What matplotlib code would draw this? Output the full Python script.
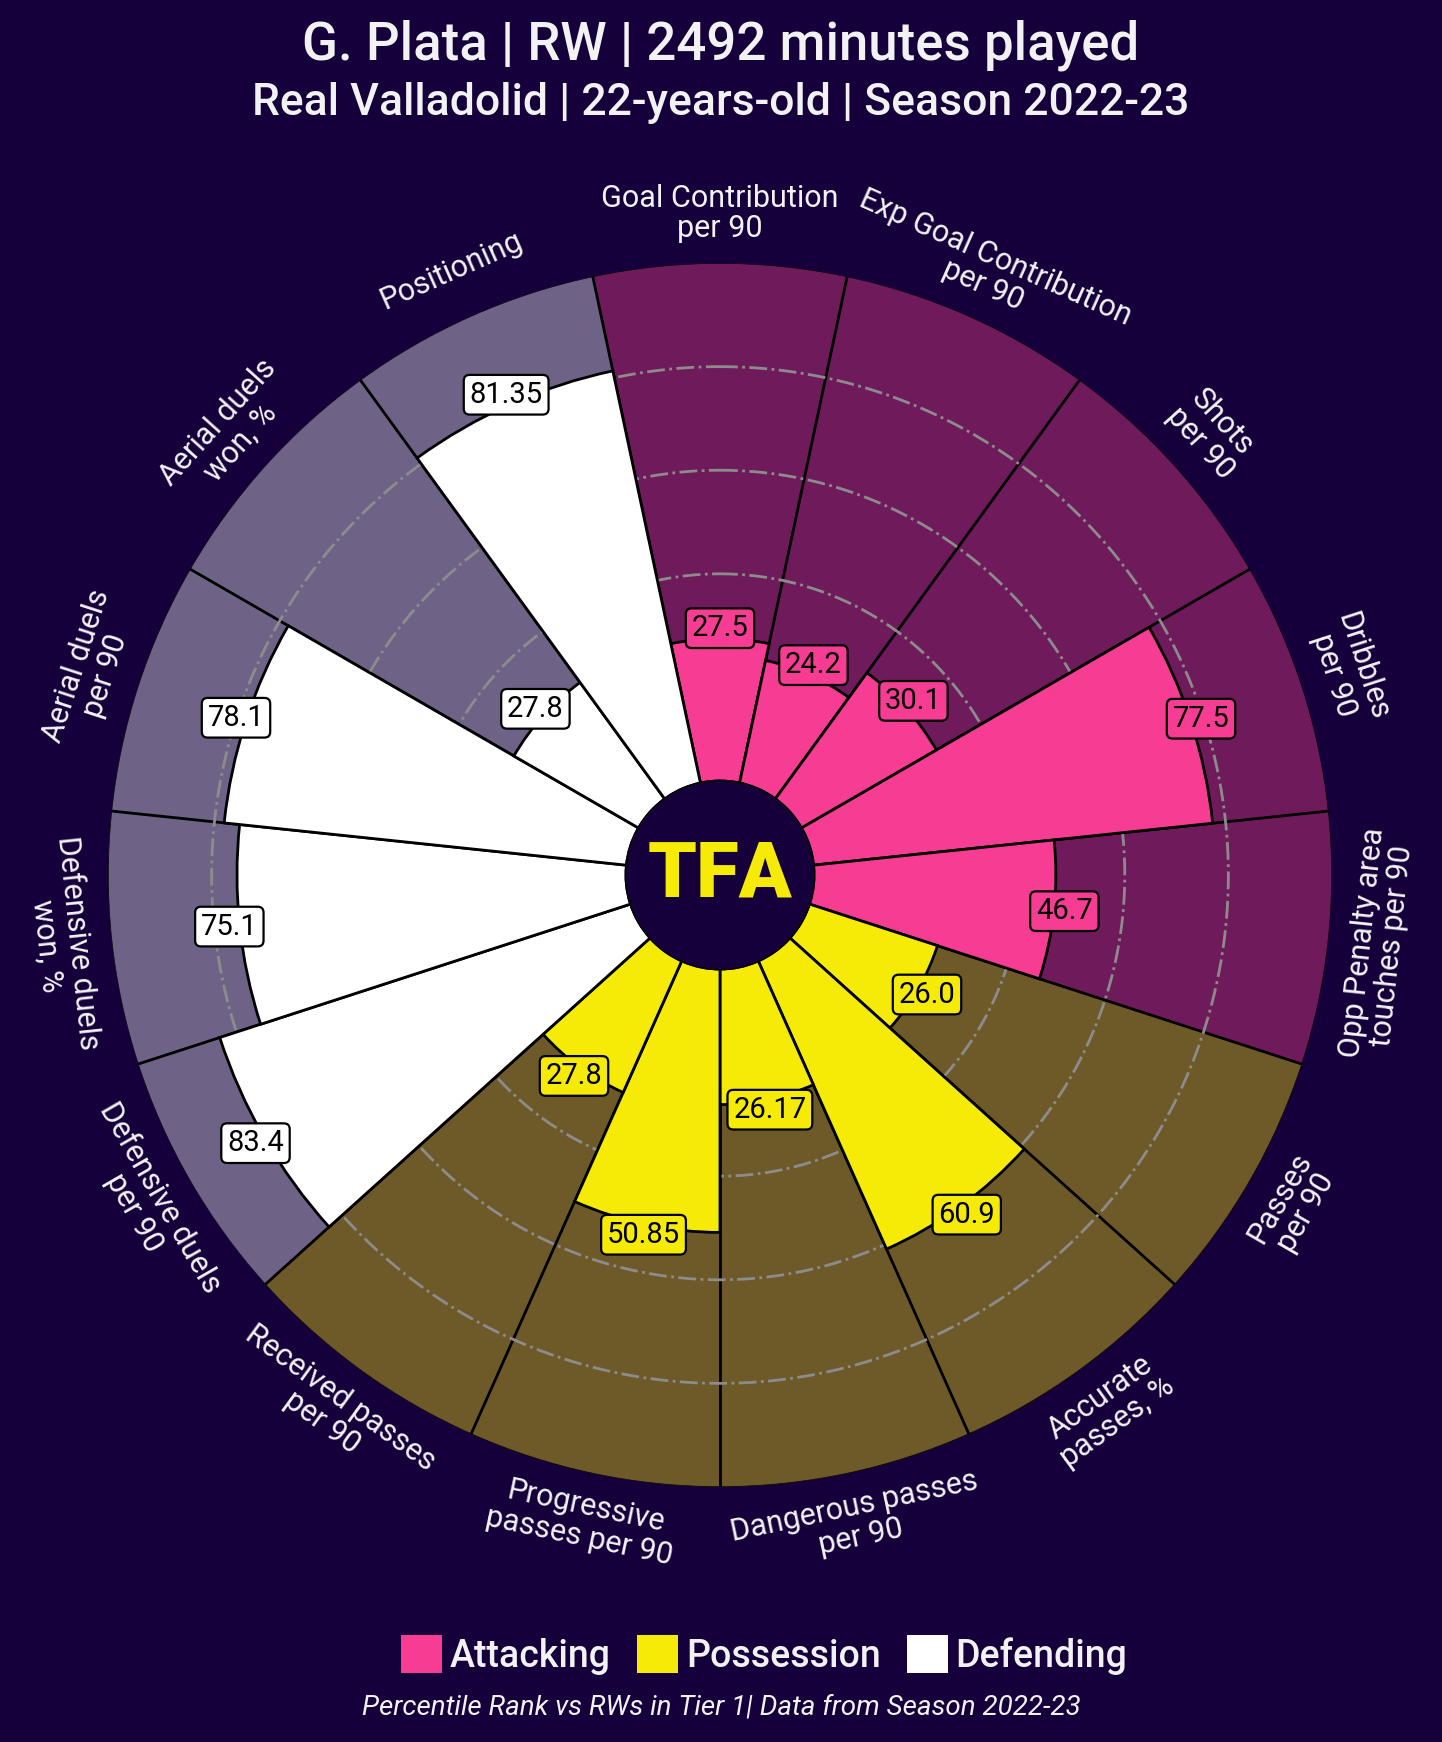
import numpy as np
import matplotlib.pyplot as plt
from matplotlib.patches import Patch, Circle

# ---------------------------------------------------------------
# data
# ---------------------------------------------------------------
PARAMS = [
    "Goal Contribution\nper 90",
    "Exp Goal Contribution\nper 90",
    "Shots\nper 90",
    "Dribbles\nper 90",
    "Opp Penalty area\ntouches per 90",
    "Passes\nper 90",
    "Accurate\npasses, %",
    "Dangerous passes\nper 90",
    "Progressive\npasses per 90",
    "Received passes\nper 90",
    "Defensive duels\nper 90",
    "Defensive duels\nwon, %",
    "Aerial duels\nper 90",
    "Aerial duels\nwon, %",
    "Positioning",
]
VALUES = [27.5, 24.2, 30.1, 77.5, 46.7,
          26.0, 60.9, 26.17, 50.85, 27.8,
          83.4, 75.1, 78.1, 27.8, 81.35]
VALUE_TEXT = ["27.5", "24.2", "30.1", "77.5", "46.7",
              "26.0", "60.9", "26.17", "50.85", "27.8",
              "83.4", "75.1", "78.1", "27.8", "81.35"]
GROUPS = ["Attacking"] * 5 + ["Possession"] * 5 + ["Defending"] * 5
GROUP_NAMES = ["Attacking", "Possession", "Defending"]

TITLE = "G. Plata | RW | 2492 minutes played"
SUBTITLE = "Real Valladolid | 22-years-old | Season 2022-23"
FOOTER = "Percentile Rank vs RWs in Tier 1| Data from Season 2022-23"

# ---------------------------------------------------------------
# style
# ---------------------------------------------------------------
BG = "#16003c"
TXT = "#f2f2f2"
SLICE_COLOR = {"Attacking": "#f73d93", "Possession": "#f5eb06", "Defending": "#ffffff"}
BACK_COLOR = {"Attacking": "#6f1a5b", "Possession": "#6e5a28", "Defending": "#6e6386"}
HOLE = 18.15

plt.rcParams["font.family"] = ["Roboto", "DejaVu Sans"]

fig = plt.figure(figsize=(14.42, 17.42), dpi=100, facecolor=BG)
ax = fig.add_axes([0.0749, 0.1464, 0.8488, 0.7026], projection="polar")
ax.set_theta_offset(np.pi / 2)
ax.set_theta_direction(-1)
ax.set_ylim(0, 100)
ax.set_rorigin(-HOLE)
ax.set_axis_off()

n = len(PARAMS)
width = 2 * np.pi / n
theta = np.arange(n) * width

# background slices
ax.bar(theta, [100] * n, width=width, bottom=0,
       color=[BACK_COLOR[g] for g in GROUPS], edgecolor="black", lw=1, zorder=1)

# slice separators
for t in theta - width / 2:
    ax.plot([t, t], [0, 100], color="black", lw=2, zorder=2)

# grid circles
circ = np.linspace(0, 2 * np.pi, 600)
for level in [20, 40, 60, 80]:
    ax.plot(circ, [level] * len(circ), color="#8c8c8c", ls="-.", lw=2, zorder=2)

# value slices
ax.bar(theta, VALUES, width=width, bottom=0,
       color=[SLICE_COLOR[g] for g in GROUPS], edgecolor="black", lw=2, zorder=3)

# value boxes
for t, v, s, g in zip(theta, VALUES, VALUE_TEXT, GROUPS):
    ax.text(t, v + 2, s, ha="center", va="center", fontsize=21, color="black",
            zorder=6,
            bbox=dict(boxstyle="round,pad=0.2", fc=SLICE_COLOR[g], ec="black", lw=1.6))

# parameter labels
for i, (t, p) in enumerate(zip(theta, PARAMS)):
    rot = -np.degrees(t)
    rot = (rot + 180) % 360 - 180
    if abs(rot) > 90:
        rot = (rot + 360) % 360 - 180
    ax.text(t, 109.5, p, ha="center", va="center", rotation=rot,
            fontsize=22, color=TXT, linespacing=1.05, clip_on=False)

# centre hole with logo
ax.add_patch(Circle((0.5, 0.5), 0.0768, transform=ax.transAxes,
                    fc=BG, ec="black", lw=2, zorder=7))
ax.text(0.5, 0.5, "TFA", transform=ax.transAxes, ha="center", va="center",
        fontsize=56, fontweight="black", color="#f5eb06", zorder=8)

# titles
fig.text(0.5, 1 - 45 / 1742, TITLE, ha="center", va="center",
         fontsize=38, fontweight="medium", color=TXT)
fig.text(0.5, 1 - 103 / 1742, SUBTITLE, ha="center", va="center",
         fontsize=32, fontweight="medium", color=TXT)

# legend
handles = [Patch(facecolor=SLICE_COLOR[g], edgecolor="none") for g in GROUP_NAMES]
leg = fig.legend(handles, GROUP_NAMES, loc="center", ncol=3,
                 bbox_to_anchor=(0.53, 1 - 1655 / 1742), frameon=False,
                 fontsize=27, handlelength=1.1, handleheight=1.15,
                 handletextpad=0.2, columnspacing=0.7)
for txt in leg.get_texts():
    txt.set_color(TXT)
    txt.set_fontweight("medium")

fig.text(0.5, 1 - 1707 / 1742, FOOTER, ha="center", va="center",
         fontsize=20, style="italic", color=TXT)

fig.savefig("out.png", dpi=100, facecolor=BG)
